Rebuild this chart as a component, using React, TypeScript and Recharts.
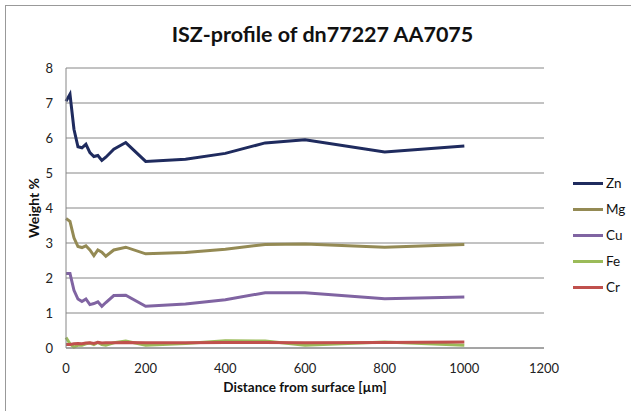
import { LineChart, Line, XAxis, YAxis, CartesianGrid } from 'recharts';

const distance = [0, 10, 20, 30, 40, 50, 60, 70, 80, 90, 100, 120, 150, 200, 300, 400, 500, 600, 800, 1000];
const zn = [7.05, 7.25, 6.25, 5.75, 5.72, 5.82, 5.58, 5.47, 5.5, 5.36, 5.45, 5.68, 5.87, 5.33, 5.39, 5.56, 5.86, 5.95, 5.6, 5.77];
const mg = [3.7, 3.62, 3.15, 2.9, 2.87, 2.92, 2.8, 2.64, 2.8, 2.74, 2.62, 2.8, 2.88, 2.69, 2.73, 2.82, 2.96, 2.97, 2.88, 2.96];
const cu = [2.13, 2.13, 1.65, 1.4, 1.33, 1.4, 1.24, 1.27, 1.32, 1.19, 1.3, 1.5, 1.51, 1.19, 1.26, 1.38, 1.58, 1.58, 1.41, 1.46];
const fe = [0.3, 0.12, 0.02, 0.08, 0.08, 0.12, 0.14, 0.1, 0.16, 0.1, 0.08, 0.15, 0.2, 0.08, 0.13, 0.21, 0.2, 0.08, 0.17, 0.08];
const cr = [0.1, 0.1, 0.12, 0.13, 0.12, 0.14, 0.15, 0.13, 0.16, 0.14, 0.15, 0.15, 0.16, 0.15, 0.15, 0.16, 0.16, 0.15, 0.16, 0.17];

const xTicks = [0, 200, 400, 600, 800, 1000, 1200];
const yTicks = [0, 1, 2, 3, 4, 5, 6, 7, 8];

const series = [
  { key: 'Zn', values: zn, color: '#1f2b5e' },
  { key: 'Mg', values: mg, color: '#948a54' },
  { key: 'Cu', values: cu, color: '#8064a2' },
  { key: 'Fe', values: fe, color: '#9bbb59' },
  { key: 'Cr', values: cr, color: '#c0504d' },
];

const data = distance.map((d, i) => {
  const row: Record<string, number> = { d };
  series.forEach(s => { row[s.key] = s.values[i]; });
  return row;
});

const font = 'Lato, "Open Sans", sans-serif';
const tick = { fontSize: 13, fill: '#222', fontFamily: font };

export default function App() {
  return (
    <div style={{ position: 'absolute', left: 0, top: 0, width: 631, height: 411, background: '#fff', fontFamily: font, overflow: 'hidden' }}>
      <div style={{ position: 'absolute', left: 5, top: 5, width: 626, height: 406, borderTop: '1px solid #999', borderLeft: '1px solid #999' }} />
      <LineChart width={631} height={411} data={data} margin={{ top: 68, right: 87, left: 0, bottom: 33 }}>
        <CartesianGrid vertical={false} stroke="#868686" />
        <XAxis
          dataKey="d" type="number" domain={[0, 1200]} ticks={xTicks}
          tick={tick} tickLine={false} tickSize={0} tickMargin={16}
          axisLine={{ stroke: '#868686' }} height={30}
        />
        <YAxis
          domain={[0, 8]} ticks={yTicks} width={66}
          tick={tick} tickLine={false} tickSize={0} tickMargin={13}
          axisLine={{ stroke: '#868686' }}
        />
        {series.map(s => (
          <Line key={s.key} dataKey={s.key} type="linear" stroke={s.color} strokeWidth={3} dot={false} isAnimationActive={false} />
        ))}
      </LineChart>
      <div style={{ position: 'absolute', left: 0, width: 631, top: 21, textAlign: 'center', paddingLeft: 14, boxSizing: 'border-box', fontSize: 21.5, fontWeight: 700, color: '#111' }}>
        ISZ-profile of dn77227 AA7075
      </div>
      <div style={{ position: 'absolute', left: 66, width: 478, top: 379, textAlign: 'center', fontSize: 13.5, fontWeight: 700, color: '#111' }}>
        Distance from surface [µm]
      </div>
      <div style={{ position: 'absolute', left: 33, top: 208, transform: 'translate(-50%, -50%) rotate(-90deg)', whiteSpace: 'nowrap', fontSize: 14, fontWeight: 700, color: '#111' }}>
        Weight %
      </div>
      {series.map((s, i) => (
        <div key={s.key} style={{ position: 'absolute', left: 573, top: 183 + i * 26 - 9, height: 18, display: 'flex', alignItems: 'center', fontSize: 13.5, color: '#111' }}>
          <div style={{ width: 30, height: 3, background: s.color, marginRight: 3 }} />
          {s.key}
        </div>
      ))}
    </div>
  );
}
